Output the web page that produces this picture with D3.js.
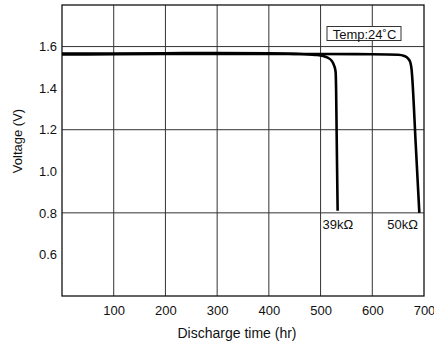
<!DOCTYPE html>
<html><head><meta charset="utf-8">
<script src="https://cdn.jsdelivr.net/npm/d3@7"></script>
<style>body{margin:0;background:#fff}svg{display:block}text{font-family:"Liberation Sans",Arial,sans-serif;fill:#111}</style>
</head><body>
<svg id="c" width="434" height="345"></svg>
<script>
const xTicks = [100,200,300,400,500,600,700];
const yTicks = [0.6,0.8,1.0,1.2,1.4,1.6];
const yGrid = [0.8,1.2,1.6];
const xGrid = [100,200,300,400,500,600];
const series39 = [[0,1.566],[100,1.567],[200,1.568],[300,1.569],[400,1.568],[450,1.565],[490,1.56],[505,1.555],[515,1.545],[522,1.53],[526,1.51],[529,1.48],[530,1.40],[531,1.2],[532,1.0],[533,0.81]];
const series50 = [[0,1.562],[100,1.563],[200,1.564],[300,1.565],[400,1.565],[500,1.564],[600,1.563],[650,1.561],[662,1.555],[670,1.54],[674,1.52],[676,1.49],[677,1.46],[684,1.13],[691,0.8]];
const seriesLabels = [{t:"39kΩ",x:502,y:0.8},{t:"50kΩ",x:627,y:0.8}];
const tempLabel = "Temp:24˚C";

const svg = d3.select("#c");
const x = d3.scaleLinear().domain([0,700]).range([62,424]);
const y = d3.scaleLinear().domain([0.4,1.8]).range([296,5]);
const FONT = "Liberation Sans, Arial, sans-serif";

// grid
svg.append("g").selectAll("line").data(xGrid).join("line")
  .attr("x1",d=>x(d)).attr("x2",d=>x(d)).attr("y1",y(1.8)).attr("y2",y(0.4))
  .attr("stroke","#333").attr("stroke-width",1);
svg.append("g").selectAll("line").data(yGrid).join("line")
  .attr("x1",x(0)).attr("x2",x(700)).attr("y1",d=>y(d)).attr("y2",d=>y(d))
  .attr("stroke","#333").attr("stroke-width",1);

// frame
svg.append("rect").attr("x",x(0)).attr("y",y(1.8)).attr("width",x(700)-x(0)).attr("height",y(0.4)-y(1.8))
  .attr("fill","none").attr("stroke","#111").attr("stroke-width",1.3);

// axes labels
const xa = d3.axisBottom(x).tickValues(xTicks).tickSize(0).tickPadding(10).tickFormat(d3.format("d"));
const gx = svg.append("g").attr("transform",`translate(0,${y(0.4)})`).call(xa);
gx.select(".domain").remove();
gx.selectAll("text").attr("font-size",13).style("font-family",FONT).attr("fill","#111");
const ya = d3.axisLeft(y).tickValues(yTicks).tickSize(0).tickPadding(5).tickFormat(d3.format(".1f"));
const gy = svg.append("g").attr("transform",`translate(${x(0)},0)`).call(ya);
gy.select(".domain").remove();
gy.selectAll("text").attr("font-size",13).style("font-family",FONT).attr("fill","#111");

svg.append("text").attr("x",237).attr("y",338).attr("text-anchor","middle").attr("font-size",14).text("Discharge time (hr)");
svg.append("text").attr("transform","translate(22,141) rotate(-90)").attr("text-anchor","middle").attr("font-size",13).text("Voltage (V)");

// curves
const line = d3.line().x(d=>x(d[0])).y(d=>y(d[1])).curve(d3.curveMonotoneX);
[series39,series50].forEach(s=>{
  svg.append("path").datum(s).attr("d",line).attr("fill","none").attr("stroke","#000").attr("stroke-width",2.6);
});

// series labels
svg.selectAll(".sl").data(seriesLabels).join("text").attr("class","sl")
  .attr("x",d=>x(d.x)+1).attr("y",d=>y(d.y)+16).attr("font-size",13).text(d=>d.t);

// temp box
const tb = svg.append("g");
tb.append("rect").attr("x",327).attr("y",26.5).attr("width",74).attr("height",14).attr("fill","#fff").attr("stroke","#333").attr("stroke-width",1);
tb.append("text").attr("x",364.5).attr("y",38.5).attr("text-anchor","middle").attr("font-size",13).text(tempLabel);
</script>
</body></html>
